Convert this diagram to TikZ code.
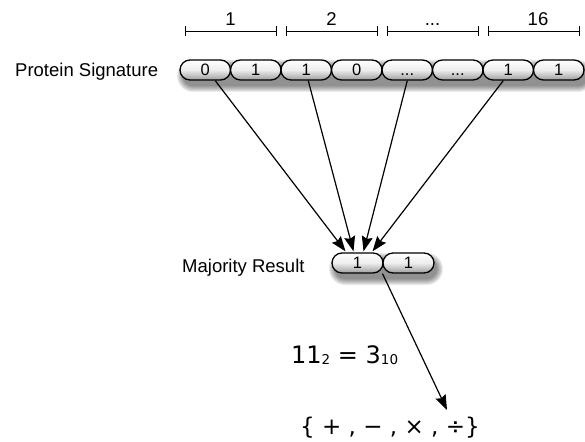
\documentclass[tikz,border=0pt]{standalone}
\usepackage{fontspec}
\setmainfont{Liberation Sans}
\newfontfamily\dejavu{DejaVu Sans}
\usetikzlibrary{shapes.misc,arrows.meta,calc}
\pgfdeclarelayer{arrowlayer}
\pgfdeclarelayer{shadowlayer}
\pgfsetlayers{arrowlayer,shadowlayer,main}
\begin{document}
\begin{tikzpicture}[x=1pt,y=-1pt,
  pill/.style={rounded rectangle, draw=black, line width=1.3pt,
    minimum width=50.5pt, minimum height=20pt, inner sep=0pt,
    top color=white, bottom color=black!38, middle color=black!7,
    font=\fontsize{16.5}{16.5}\selectfont, text height=11.8pt, text depth=0pt},
  lbl/.style={font=\fontsize{18.5}{20}\selectfont, inner sep=0pt},
  conn/.style={line width=1.2pt, -{Stealth[length=15pt,width=11pt,inset=2pt]}},
  bracket/.style={line width=1.2pt, {Bar[width=10pt]}-{Bar[width=10pt]}},
  shade/.style={fill=black, opacity=0.08},
]
\useasboundingbox (0,0) rectangle (585,441);

% shadows
\begin{pgfonlayer}{shadowlayer}
\foreach \r [evaluate=\r as \rc using 10+\r] in {0,...,6}{
  \fill[shade, rounded corners=\rc pt] (183-\r,66-\r) rectangle (588+\r,86+\r);
  \fill[shade, rounded corners=\rc pt] (335-\r,259-\r) rectangle (437+\r,279+\r);
}
\end{pgfonlayer}

% top row
\node[pill] (p0) at (205.25,70) {0};
\node[pill] (p1) at (255.75,70) {1};
\node[pill] (p2) at (306.25,70) {1};
\node[pill] (p3) at (356.75,70) {0};
\node[pill] (p4) at (407.25,70) {...};
\node[pill] (p5) at (457.75,70) {...};
\node[pill] (p6) at (508.25,70) {1};
\node[pill] (p7) at (558.75,70) {1};

\node[lbl, anchor=base west] (ps) at (15,77) {Protein Signature};

% brackets
\draw[bracket] ([xshift=-20pt,yshift=28pt]p0.north) -- ([xshift=21pt,yshift=28pt]p1.north);
\draw[bracket] ([xshift=-20pt,yshift=28pt]p2.north) -- ([xshift=21pt,yshift=28pt]p3.north);
\draw[bracket] ([xshift=-20pt,yshift=28pt]p4.north) -- ([xshift=21pt,yshift=28pt]p5.north);
\draw[bracket] ([xshift=-20pt,yshift=28pt]p6.north) -- ([xshift=21pt,yshift=28pt]p7.north);
\node[lbl, anchor=base] (l1) at (230.5,26) {1};
\node[lbl, anchor=base] (l2) at (331.5,26) {2};
\node[lbl, anchor=base] (l3) at (432.5,26) {...};
\node[lbl, anchor=base] (l4) at (538,26) {16};

% majority
\node[pill, minimum width=51pt] (m0) at (357.5,263) {1};
\node[pill, minimum width=51pt] (m1) at (408.5,263) {1};
\node[lbl, anchor=base west] (mr) at (182,272) {Majority Result};

% equations
\node[anchor=base west, inner sep=0pt, font=\dejavu\fontsize{24}{26}\selectfont] (eq) at (291,363)
  {11\raisebox{-1.5pt}{\fontsize{13.5}{14}\selectfont 2} = 3\raisebox{-1.5pt}{\fontsize{13.5}{14}\selectfont 10}};
\node[anchor=base west, inner sep=0pt, font=\dejavu\fontsize{23}{25}\selectfont] (ops) at (300,434)
  {\{ + , − , × , ÷\}};
\coordinate (opin) at (447,410);

% arrows
\begin{pgfonlayer}{arrowlayer}
\draw[conn] ([xshift=10pt]p0.south) -- ([xshift=-12pt,yshift=1pt]m0.north);
\draw[conn] ([xshift=2pt]p2.south) -- ([xshift=-4pt,yshift=1pt]m0.north);
\draw[conn] (p4.south) -- ([xshift=6pt,yshift=1pt]m0.north);
\draw[conn] ([xshift=-5pt]p6.south) -- ([xshift=15pt,yshift=1pt]m0.north);
\draw[conn] ([xshift=25pt]m0.south) -- (opin);
\end{pgfonlayer}
\end{tikzpicture}
\end{document}
